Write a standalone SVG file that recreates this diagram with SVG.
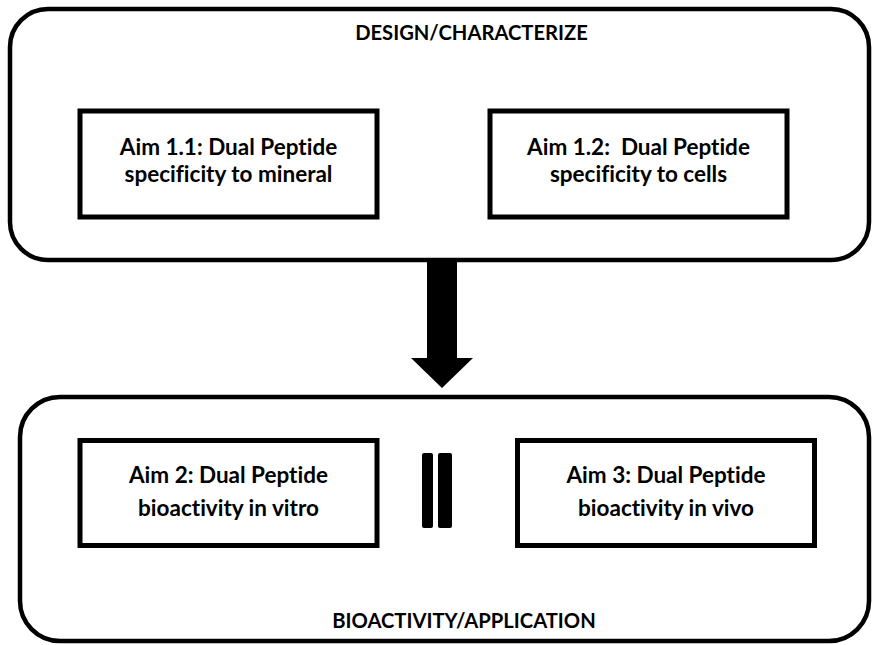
<svg xmlns="http://www.w3.org/2000/svg" width="872" height="645" viewBox="0 0 872 645">
<style>
.outer{fill:none;stroke:#000;stroke-width:4.5}
.box{fill:#fff;stroke:#000;stroke-width:5}
.t{font-family:Lato,"Open Sans",sans-serif;font-weight:bold;font-size:22.5px;fill:#000;text-anchor:middle;font-variant-ligatures:none}
.h{font-family:Lato,"Open Sans",sans-serif;font-weight:bold;font-size:20.2px;fill:#000;text-anchor:middle;font-variant-ligatures:none}
</style>
<rect width="872" height="645" fill="#fff"/>
<g id="design">
<rect class="outer" x="10" y="9" width="859" height="251" rx="38"/>
<text class="h" x="471.5" y="40">DESIGN/CHARACTERIZE</text>
</g>
<g id="bioactivity">
<rect class="outer" x="20" y="397" width="849" height="244" rx="40"/>
<text class="h" x="464" y="628">BIOACTIVITY/APPLICATION</text>
</g>
<g id="aim11">
<rect class="box" x="80" y="111" width="297" height="106"/>
<text class="t" x="228.5" y="155">Aim 1.1: Dual Peptide</text>
<text class="t" x="228.5" y="182">specificity to mineral</text>
</g>
<g id="aim12">
<rect class="box" x="490" y="111" width="297" height="106"/>
<text class="t" x="638.5" y="155" xml:space="preserve">Aim 1.2:  Dual Peptide</text>
<text class="t" x="638.5" y="182">specificity to cells</text>
</g>
<g id="aim2">
<rect class="box" x="80" y="440.5" width="297" height="105"/>
<text class="t" x="228.5" y="483">Aim 2: Dual Peptide</text>
<text class="t" x="228.5" y="516">bioactivity in vitro</text>
</g>
<g id="aim3">
<rect class="box" x="517.5" y="440.5" width="297" height="105"/>
<text class="t" x="666" y="483">Aim 3: Dual Peptide</text>
<text class="t" x="666" y="516">bioactivity in vivo</text>
</g>
<g id="connectors">
<polygon points="427,262 457,262 457,358 473,358 442,388 411,358 427,358" fill="#000"/>
<rect x="422" y="453" width="11" height="75" rx="2" fill="#000"/>
<rect x="438" y="453" width="14" height="75" rx="2" fill="#000"/>
</g>
</svg>
